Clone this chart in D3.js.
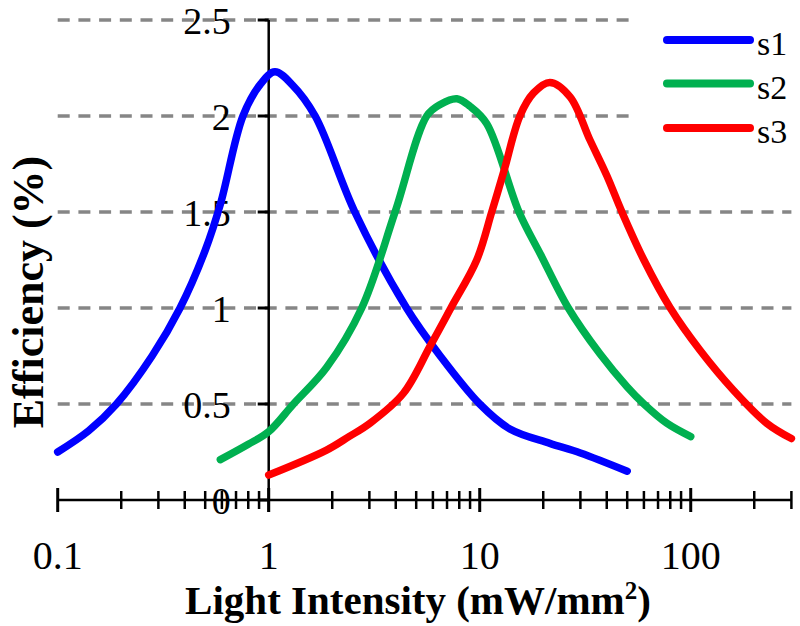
<!DOCTYPE html>
<html>
<head>
<meta charset="utf-8">
<script src="https://cdn.jsdelivr.net/npm/d3@7/dist/d3.min.js"></script>
<style>
  html, body { margin: 0; padding: 0; background: #fff; }
  svg { display: block; }
</style>
</head>
<body>
<svg id="chart" width="800" height="626"></svg>
<script>
// ---- data ----
const seriesNames = ["s1", "s2", "s3"];
const seriesColors = ["#0000ff", "#00b050", "#ff0000"];

const s1X = [0.1, 0.14, 0.19, 0.28, 0.38, 0.5, 0.59, 0.755, 0.92, 1.07, 1.3, 1.66, 2.56, 4.5, 6.5, 10.0, 13.9, 21.5, 30, 50];
const s1Y = [0.25, 0.36, 0.5, 0.75, 1.0, 1.3, 1.54, 2.0, 2.17, 2.23, 2.16, 2.0, 1.5, 1.0, 0.75, 0.5, 0.37, 0.295, 0.245, 0.15];

const s2X = [0.59, 0.8, 1.0, 1.31, 1.88, 2.76, 3.97, 5.61, 6.5, 7.8, 9.0, 10.8, 15.35, 19.4, 26.3, 37.2, 49.9, 60, 77, 100];
const s2Y = [0.21, 0.29, 0.356, 0.5, 0.69, 1.0, 1.5, 2.0, 2.06, 2.09, 2.05, 1.96, 1.5, 1.28, 1.0, 0.76, 0.59, 0.5, 0.40, 0.33];

const s3X = [1.0, 1.88, 2.4, 3.02, 4.35, 5.81, 7.3, 9.68, 11.4, 13, 15.5, 18, 21.5, 26.8, 33.3, 40, 47.2, 60, 80, 110.7, 159, 229, 300];
const s3Y = [0.13, 0.26, 0.33, 0.40, 0.556, 0.80, 1.0, 1.25, 1.5, 1.71, 2.0, 2.12, 2.175, 2.10, 1.875, 1.69, 1.5, 1.25, 1.0, 0.78, 0.573, 0.40, 0.32];

const xMajorTicks = [0.1, 1, 10, 100];
const xTickLabels = ["0.1", "1", "10", "100"];
const yTicks = [0, 0.5, 1, 1.5, 2, 2.5];
const yTickLabels = ["0", "0.5", "1", "1.5", "2", "2.5"];
const xTitle = "Light Intensity (mW/mm";
const yTitle = "Efficiency (%)";

// ---- drawing ----
const FONT = "'Liberation Serif', 'DejaVu Serif', serif";
const svg = d3.select("#chart");
const x = d3.scaleLog().domain([0.1, 300]).range([57.7, 791.4]);
const y = d3.scaleLinear().domain([0, 2.5]).range([500, 20]);
const yAxisX = x(1);
const legendGap = 633; // grid lines under legend stop here

// grid lines (dashed)
const grid = svg.append("g");
yTicks.filter(v => v > 0).forEach(v => {
  grid.append("line")
    .attr("x1", x(0.1)).attr("x2", v >= 2 ? legendGap : x(300))
    .attr("y1", y(v)).attr("y2", y(v))
    .attr("stroke", "#868686").attr("stroke-width", 3.5)
    .attr("stroke-dasharray", "12,8.7");
});

// x axis line
const axes = svg.append("g").attr("stroke", "#000");
axes.append("line")
  .attr("x1", x(0.1)).attr("x2", x(300))
  .attr("y1", y(0)).attr("y2", y(0))
  .attr("stroke-width", 2.5);

// x minor/major ticks (crossing the axis)
const allTicks = x.ticks();
allTicks.forEach(t => {
  const major = xMajorTicks.includes(t);
  const h = major ? 12 : 9;
  axes.append("line")
    .attr("x1", x(t)).attr("x2", x(t))
    .attr("y1", y(0) - h).attr("y2", y(0) + h)
    .attr("stroke-width", major ? 3 : 2.5);
});

// y axis line
axes.append("line")
  .attr("x1", yAxisX).attr("x2", yAxisX)
  .attr("y1", y(2.5)).attr("y2", y(0) + 12)
  .attr("stroke-width", 2.5);
yTicks.forEach(v => {
  axes.append("line")
    .attr("x1", yAxisX - 11).attr("x2", yAxisX)
    .attr("y1", y(v)).attr("y2", y(v))
    .attr("stroke-width", 3);
});

// y tick labels
svg.append("g").selectAll("text").data(yTicks).join("text")
  .attr("x", yAxisX - 38)
  .attr("y", d => y(d) + 14)
  .attr("text-anchor", "end")
  .attr("font-family", FONT)
  .attr("font-size", 38)
  .text((d, i) => yTickLabels[i]);

// x tick labels
svg.append("g").selectAll("text").data(xMajorTicks).join("text")
  .attr("x", d => x(d))
  .attr("y", 569)
  .attr("text-anchor", "middle")
  .attr("font-family", FONT)
  .attr("font-size", 40)
  .text((d, i) => xTickLabels[i]);

// axis titles
const xt = svg.append("text")
  .attr("x", 418).attr("y", 614)
  .attr("text-anchor", "middle")
  .attr("font-family", FONT)
  .attr("font-size", 41).attr("font-weight", "bold");
xt.append("tspan").text(xTitle);
xt.append("tspan").attr("font-size", 25).attr("dy", -15).text("2");
xt.append("tspan").attr("dy", 15).text(")");

svg.append("text")
  .attr("transform", "translate(43,292) rotate(-90)")
  .attr("text-anchor", "middle")
  .attr("font-family", FONT)
  .attr("font-size", 44).attr("font-weight", "bold")
  .text(yTitle);

// series lines
const line = d3.line()
  .x(d => x(d[0]))
  .y(d => y(d[1]))
  .curve(d3.curveCatmullRom.alpha(0.5));

const seriesData = [
  d3.zip(s1X, s1Y),
  d3.zip(s2X, s2Y),
  d3.zip(s3X, s3Y)
];

svg.append("g").selectAll("path").data(seriesData).join("path")
  .attr("d", line)
  .attr("fill", "none")
  .attr("stroke", (d, i) => seriesColors[i])
  .attr("stroke-width", 7.5)
  .attr("stroke-linecap", "round")
  .attr("stroke-linejoin", "round");

// legend
const legendY = [40, 83.5, 128];
const legend = svg.append("g");
seriesNames.forEach((name, i) => {
  legend.append("line")
    .attr("x1", 667).attr("x2", 750)
    .attr("y1", legendY[i]).attr("y2", legendY[i])
    .attr("stroke", seriesColors[i]).attr("stroke-width", 8)
    .attr("stroke-linecap", "round");
  legend.append("text")
    .attr("x", 757).attr("y", legendY[i] + 15)
    .attr("font-family", FONT)
    .attr("font-size", 34)
    .text(name);
});
</script>
</body>
</html>
